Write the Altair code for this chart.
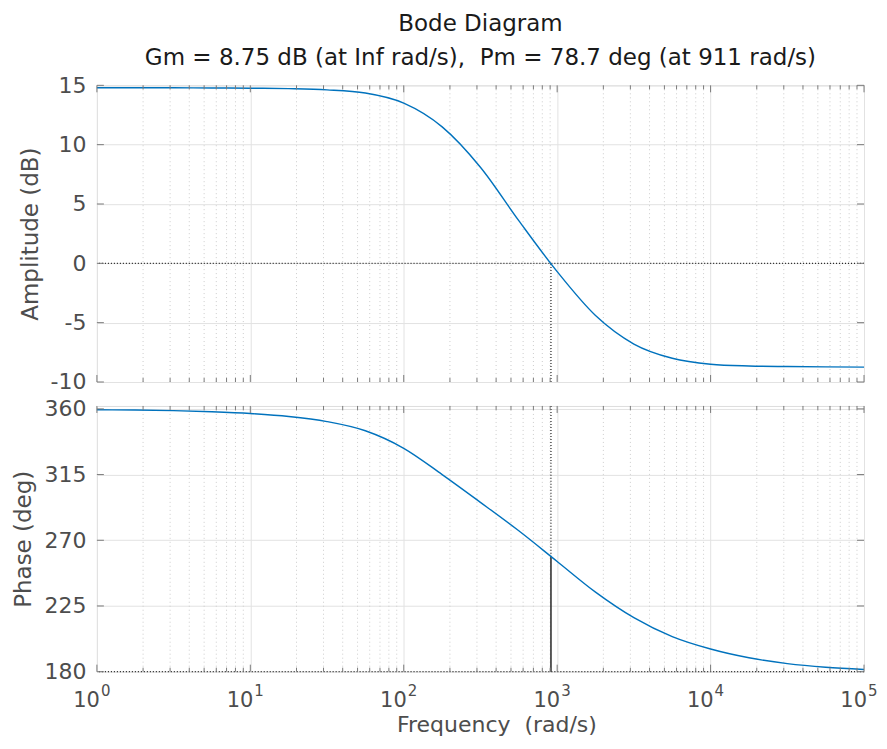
import altair as alt
import pandas as pd

# ---------------- data ----------------
FREQ = [1, 1.78, 3.16, 5.62, 10, 17.8, 31.6, 56.2, 100, 178, 316, 562, 1000,
        1778, 3162, 5623, 10000, 17783, 31623, 56234, 100000]
AMP_DB = [14.8, 14.8, 14.79, 14.78, 14.76, 14.72, 14.62, 14.35, 13.5, 11.5, 8.1,
          3.6, -0.7, -4.4, -6.8, -8.0, -8.5, -8.65, -8.7, -8.73, -8.75]
PHASE = [359.4, 359.2, 358.8, 358.0, 356.8, 354.8, 351.3, 345.0, 333.0, 315.0,
         296.0, 276.5, 255.5, 234.5, 217.0, 204.0, 195.5, 189.5, 185.5, 183.0, 181.5]

DECADES = [1, 10, 100, 1000, 10000, 100000]
EXPONENTS = ["0", "1", "2", "3", "4", "5"]
MINOR = [m * d for d in [1, 10, 100, 1000, 10000] for m in range(2, 10)]

AMP_TICKS = [-10, -5, 0, 5, 10, 15]
PH_TICKS = [180, 225, 270, 315, 360]

WC_FREQ = 911.0      # gain crossover frequency
PM_PHASE = 258.7     # phase at crossover

TITLE = "Bode Diagram"
SUBTITLE = "Gm = 8.75 dB (at Inf rad/s),\u00a0 Pm = 78.7 deg (at 911 rad/s)"
XTITLE = "Frequency\u00a0 (rad/s)"

# ---------------- styling ----------------
W, H1, H2 = 768, 297, 266
FONT = "DejaVu Sans"
TXT = "#4d4d4d"
BOX = "#7a7a7a"
BLUE = "#0072BD"
GRID = "#e2e2e2"
MINOR_GRID = "#cccccc"
TICK_FS = 22
XTICK_FS = 21
AXT_FS = 23

xscale = alt.Scale(type="log", domain=[1, 100000], nice=False)
y1scale = alt.Scale(domain=[-10, 15], nice=False, zero=False)
y2scale = alt.Scale(domain=[180, 362], nice=False, zero=False)

x_axis = alt.Axis(values=DECADES, grid=True, gridColor=GRID, labels=False,
                  ticks=False, domain=False, title=None, minExtent=0)
x_axis_bottom = alt.Axis(values=DECADES, grid=True, gridColor=GRID, labels=False,
                         ticks=False, domain=False, minExtent=0,
                         title=XTITLE, titleFont=FONT, titleFontSize=22,
                         titleFontWeight="normal", titleColor=TXT,
                         titlePadding=43, titleX=400)


def y_axis(vals, title):
    return alt.Axis(values=vals, grid=True, gridColor=GRID, ticks=False,
                    domain=False, labelFont=FONT, labelFontSize=TICK_FS,
                    labelColor=TXT, labelPadding=11,
                    labelExpr="datum.value < 0 ? '-' + abs(datum.value) : datum.label",
                    title=title, titleFont=FONT, titleFontSize=AXT_FS,
                    titleFontWeight="normal", titleColor=TXT, titlePadding=8)


def panel(df_curve, yscale, yaxis, xaxis, h, ytick_vals):
    X = alt.X("f:Q", scale=xscale, axis=xaxis)
    Y = alt.Y("v:Q", scale=yscale, axis=yaxis)
    minor = alt.Chart(pd.DataFrame({"f": MINOR})).mark_rule(
        color=MINOR_GRID, strokeDash=[1, 3], strokeWidth=1).encode(x=X)
    curve = alt.Chart(df_curve).mark_line(
        color=BLUE, strokeWidth=1.4, interpolate="monotone").encode(x=X, y=Y)
    maj = pd.DataFrame({"f": DECADES})
    mnr = pd.DataFrame({"f": MINOR})
    yt = pd.DataFrame({"v": ytick_vals})
    ticks = [
        alt.Chart(maj).mark_rule(color=BOX).encode(x=X, y=alt.value(h), y2=alt.value(h - 7)),
        alt.Chart(maj).mark_rule(color=BOX).encode(x=X, y=alt.value(0), y2=alt.value(7)),
        alt.Chart(mnr).mark_rule(color=BOX).encode(x=X, y=alt.value(h), y2=alt.value(h - 4)),
        alt.Chart(mnr).mark_rule(color=BOX).encode(x=X, y=alt.value(0), y2=alt.value(4)),
        alt.Chart(yt).mark_rule(color=BOX).encode(y=Y, x=alt.value(0), x2=alt.value(7)),
        alt.Chart(yt).mark_rule(color=BOX).encode(y=Y, x=alt.value(W), x2=alt.value(W - 7)),
    ]
    return X, Y, minor, curve, ticks


# ---- top: amplitude ----
amp_df = pd.DataFrame({"f": FREQ, "v": AMP_DB})
X1, Y1, minor1, curve1, ticks1 = panel(
    amp_df, y1scale, y_axis(AMP_TICKS, "Amplitude (dB)"), x_axis, H1, AMP_TICKS)
zero_line = alt.Chart(pd.DataFrame({"v": [0.0]})).mark_rule(
    color="#222222", strokeDash=[1, 2], strokeWidth=1.2).encode(y=Y1)
wc_line1 = alt.Chart(pd.DataFrame({"f": [WC_FREQ], "v": [-10.0], "v2": [0.0]})).mark_rule(
    color="#222222", strokeDash=[1, 2], strokeWidth=1.2).encode(x=X1, y=Y1, y2="v2:Q")

top = alt.layer(minor1, zero_line, wc_line1, curve1, *ticks1).properties(
    width=W, height=H1,
    title=alt.TitleParams(text=TITLE, subtitle=SUBTITLE, font=FONT, fontSize=23,
                          fontWeight="normal", color="#1a1a1a",
                          subtitleFont=FONT, subtitleFontSize=23,
                          subtitleColor="#1a1a1a", subtitlePadding=11,
                          anchor="middle", offset=4))

# ---- bottom: phase ----
ph_df = pd.DataFrame({"f": FREQ, "v": PHASE})
X2, Y2, minor2, curve2, ticks2 = panel(
    ph_df, y2scale, y_axis(PH_TICKS, "Phase (deg)"), x_axis_bottom, H2, PH_TICKS)
base_line = alt.Chart(pd.DataFrame({"v": [180.0]})).mark_rule(
    color="#222222", strokeDash=[1, 2], strokeWidth=1.2).encode(y=Y2)
wc_dot2 = alt.Chart(pd.DataFrame({"f": [WC_FREQ], "v": [PM_PHASE], "v2": [362.0]})).mark_rule(
    color="#222222", strokeDash=[1, 2], strokeWidth=1.2).encode(x=X2, y=Y2, y2="v2:Q")
pm_line = alt.Chart(pd.DataFrame({"f": [WC_FREQ], "v": [180.0], "v2": [PM_PHASE]})).mark_rule(
    color="#333333", strokeWidth=1.6).encode(x=X2, y=Y2, y2="v2:Q")

lab_df = pd.DataFrame({"f": DECADES, "e": EXPONENTS, "b": ["10"] * 6})
lab10 = alt.Chart(lab_df).mark_text(
    font=FONT, fontSize=XTICK_FS, color=TXT, align="right", baseline="alphabetic", dx=3).encode(
    x=X2, y=alt.value(H2 + 35), text="b:N")
labexp = alt.Chart(lab_df).mark_text(
    font=FONT, fontSize=15, color=TXT, align="left", baseline="alphabetic", dx=4).encode(
    x=X2, y=alt.value(H2 + 24), text="e:N")

bottom = alt.layer(minor2, base_line, wc_dot2, pm_line, curve2, *ticks2,
                   lab10, labexp).properties(width=W, height=H2)

chart = alt.vconcat(top, bottom, spacing=24, bounds="flush").configure_view(
    stroke=BOX, strokeWidth=1).configure(
    padding={"left": 4, "top": 4, "right": 0, "bottom": 0},
    background="white")

chart.save("out.html", embed_options={"renderer": "svg", "actions": False})
